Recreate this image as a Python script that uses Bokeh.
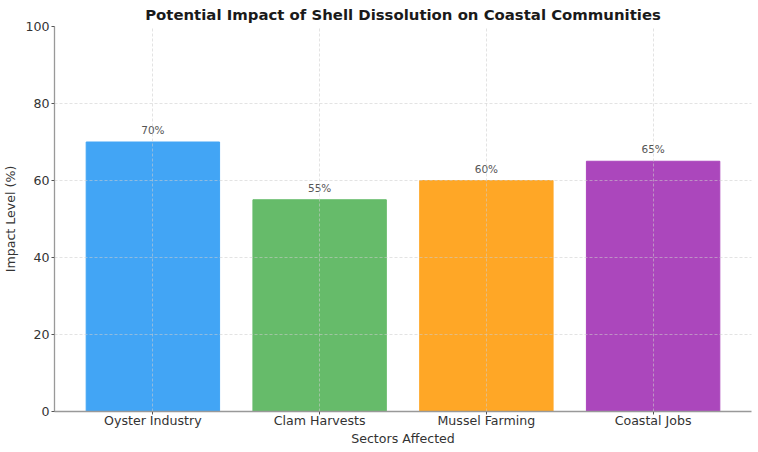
from bokeh.plotting import figure
from bokeh.models import Range1d, FixedTicker, ColumnDataSource
from bokeh.core.properties import value
from bokeh.embed import file_html
from bokeh.resources import INLINE

categories = ["Oyster Industry", "Clam Harvests", "Mussel Farming", "Coastal Jobs"]
impact = [70, 55, 60, 65]
colors = ["#42A5F5", "#66BB6A", "#FFA726", "#AB47BC"]
y_ticks = [0, 20, 40, 60, 80, 100]

FONT = "DejaVu Sans"
idx = list(range(len(categories)))
src = ColumnDataSource(dict(x=idx, top=impact, color=colors,
                            label=[f"{v}%" for v in impact]))

p = figure(width=758, height=452, output_backend="svg", toolbar_location=None,
           x_range=Range1d(-0.59, 3.59), y_range=Range1d(0, 100),
           title="Potential Impact of Shell Dissolution on Coastal Communities")
p.min_border_left = 0
p.min_border_right = 7
p.min_border_top = 0
p.min_border_bottom = 41
p.outline_line_color = None
p.background_fill_color = "white"
p.border_fill_color = "white"

p.title.text_font = FONT
p.title.text_font_size = "14.9px"
p.title.text_font_style = "bold"
p.title.text_color = "#1a1a1a"
p.title.align = "center"
p.title.offset = 0
p.title.standoff = 6

p.vbar(x="x", top="top", bottom=0, width=0.8, fill_color="color",
       line_color="color", source=src)
p.text(x="x", y="top", text="label", source=src, y_offset=-12,
       text_align="center", text_baseline="alphabetic",
       text_font=value(FONT), text_font_size="10.5px", text_color="#555555")

p.xaxis.ticker = FixedTicker(ticks=idx)
p.xaxis.major_label_overrides = {i: c for i, c in zip(idx, categories)}
p.yaxis.ticker = FixedTicker(ticks=y_ticks)

for ax in (p.xaxis, p.yaxis):
    ax.axis_line_color = "#999999"
    ax.axis_line_width = 1.3
    ax.major_tick_line_color = "#555555"
    ax.major_tick_out = 3
    ax.major_tick_in = 0
    ax.minor_tick_line_color = None
    ax.major_label_text_font = FONT
    ax.major_label_text_font_size = "12.6px"
    ax.major_label_text_color = "#333333"
    ax.axis_label_text_font = FONT
    ax.axis_label_text_font_size = "12.6px"
    ax.axis_label_text_font_style = "normal"
    ax.axis_label_text_color = "#333333"

p.xaxis.axis_label = "Sectors Affected"
p.yaxis.axis_label = "Impact Level (%)"
p.xaxis.major_label_standoff = -2
p.xaxis.axis_label_standoff = 0
p.yaxis.major_label_standoff = 2
p.yaxis.axis_label_standoff = 4

p.xgrid.grid_line_color = "#cccccc"
p.ygrid.grid_line_color = "#cccccc"
p.xgrid.grid_line_dash = "3 2"
p.ygrid.grid_line_dash = "3 2"
p.xgrid.grid_line_width = 0.8
p.ygrid.grid_line_width = 0.8
p.xgrid.level = "overlay"
p.ygrid.level = "overlay"
p.xgrid.grid_line_alpha = 0.7
p.ygrid.grid_line_alpha = 0.7

open("out.html", "w").write(file_html(p, INLINE))
